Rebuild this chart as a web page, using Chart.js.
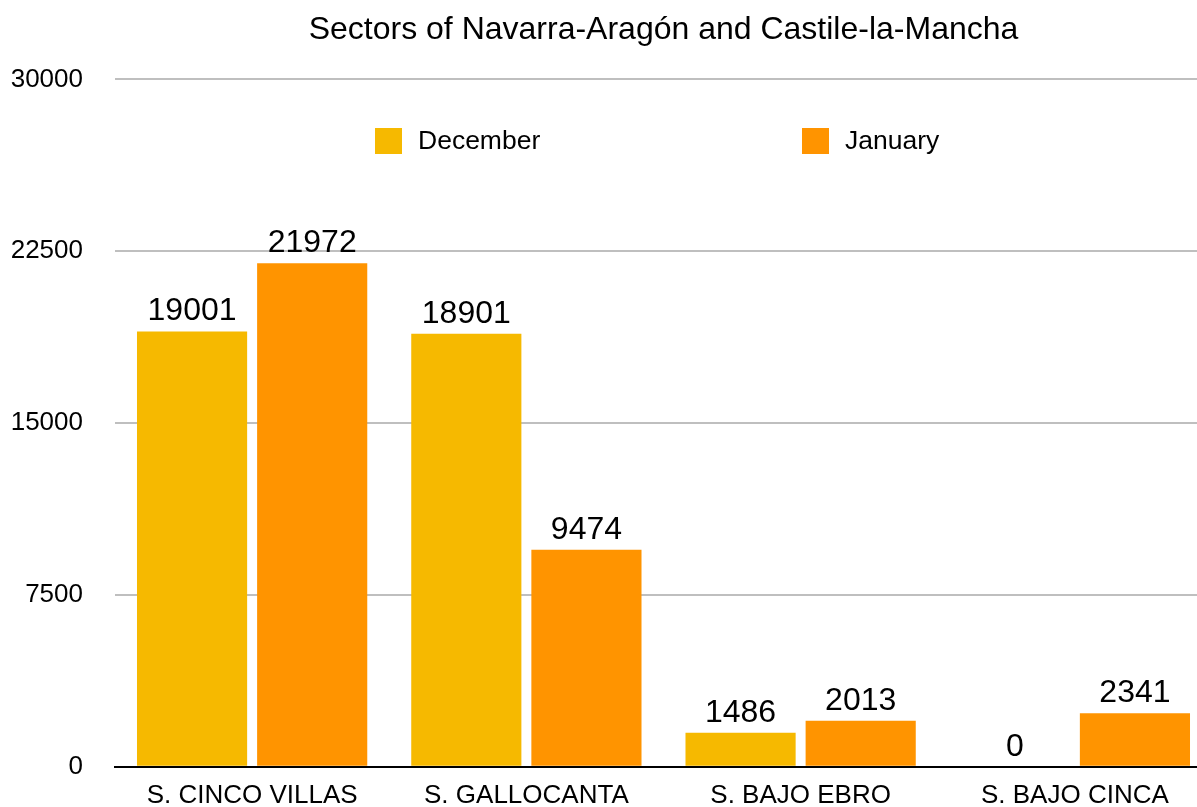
<!DOCTYPE html>
<html>
<head>
<meta charset="utf-8">
<script src="https://cdn.jsdelivr.net/npm/chart.js@4"></script>
<style>
  html, body { margin: 0; padding: 0; background: #fff; overflow: hidden; }
  #wrap { position: relative; width: 1212px; height: 824px; }
</style>
</head>
<body>
<div id="wrap"><canvas id="chart"></canvas></div>
<script>
// ===== 資料 =====
const sectors  = ['S. CINCO VILLAS', 'S. GALLOCANTA', 'S. BAJO EBRO', 'S. BAJO CINCA'];
const december = [19001, 18901, 1486, 0];
const january  = [21972, 9474, 2013, 2341];
const yTicks   = [0, 7500, 15000, 22500, 30000];

const FONT = '"Liberation Sans", Helvetica, Arial, sans-serif';
const YELLOW = '#F6B900';
const ORANGE = '#FF9400';

// ===== 長條上方數值 =====
const valueLabels = {
  id: 'valueLabels',
  afterDatasetsDraw(chart) {
    const ctx = chart.ctx;
    ctx.save();
    ctx.font = '32px ' + FONT;
    ctx.fillStyle = '#000';
    ctx.textAlign = 'center';
    ctx.textBaseline = 'alphabetic';
    chart.data.datasets.forEach((ds, i) => {
      chart.getDatasetMeta(i).data.forEach((bar, j) => {
        ctx.fillText(String(ds.data[j]), bar.x, bar.y - 11);
      });
    });
    ctx.restore();
  }
};

// ===== 圖例（畫在繪圖區內）=====
const innerLegend = {
  id: 'innerLegend',
  afterDraw(chart) {
    const ctx = chart.ctx;
    const xs = [375, 802];
    const cy = 141;
    ctx.save();
    ctx.font = '26.5px ' + FONT;
    ctx.textBaseline = 'middle';
    ctx.textAlign = 'left';
    chart.data.datasets.forEach((ds, i) => {
      ctx.fillStyle = ds.backgroundColor;
      ctx.fillRect(xs[i], cy - 13, 27, 26);
      ctx.fillStyle = '#000';
      ctx.fillText(ds.label, xs[i] + 43, cy + 1);
    });
    ctx.restore();
  }
};

new Chart(document.getElementById('chart'), {
  type: 'bar',
  data: {
    labels: sectors,
    datasets: [
      { label: 'December', data: december, backgroundColor: YELLOW, borderWidth: 0 },
      { label: 'January',  data: january,  backgroundColor: ORANGE, borderWidth: 0 }
    ]
  },
  options: {
    responsive: true,
    maintainAspectRatio: false,
    animation: false,
    categoryPercentage: 0.876,
    barPercentage: 0.917,
    layout: { padding: 0 },
    plugins: {
      legend: { display: false },
      tooltip: { enabled: false },
      title: {
        display: true,
        text: 'Sectors of Navarra-Aragón and Castile-la-Mancha',
        color: '#000',
        fullSize: false,
        font: { family: FONT, size: 32, weight: 'normal' },
        padding: { top: 11, bottom: 30 }
      }
    },
    scales: {
      x: {
        grid: { display: false, drawTicks: false },
        border: { display: true, color: '#000', width: 2 },
        ticks: {
          color: '#000',
          padding: 13,
          maxRotation: 0,
          autoSkip: false,
          font: { family: FONT, size: 26 }
        }
      },
      y: {
        min: 0,
        max: 30000,
        afterBuildTicks(scale) {
          scale.ticks = yTicks.map(v => ({ value: v }));
        },
        afterFit(scale) { scale.width = 115; },
        grid: { color: '#bfbfbf', lineWidth: 2, drawTicks: false },
        border: { display: false },
        ticks: {
          color: '#000',
          padding: 32,
          font: { family: FONT, size: 26 },
          callback: v => String(v)
        }
      }
    }
  },
  plugins: [valueLabels, innerLegend]
});
</script>
</body>
</html>
